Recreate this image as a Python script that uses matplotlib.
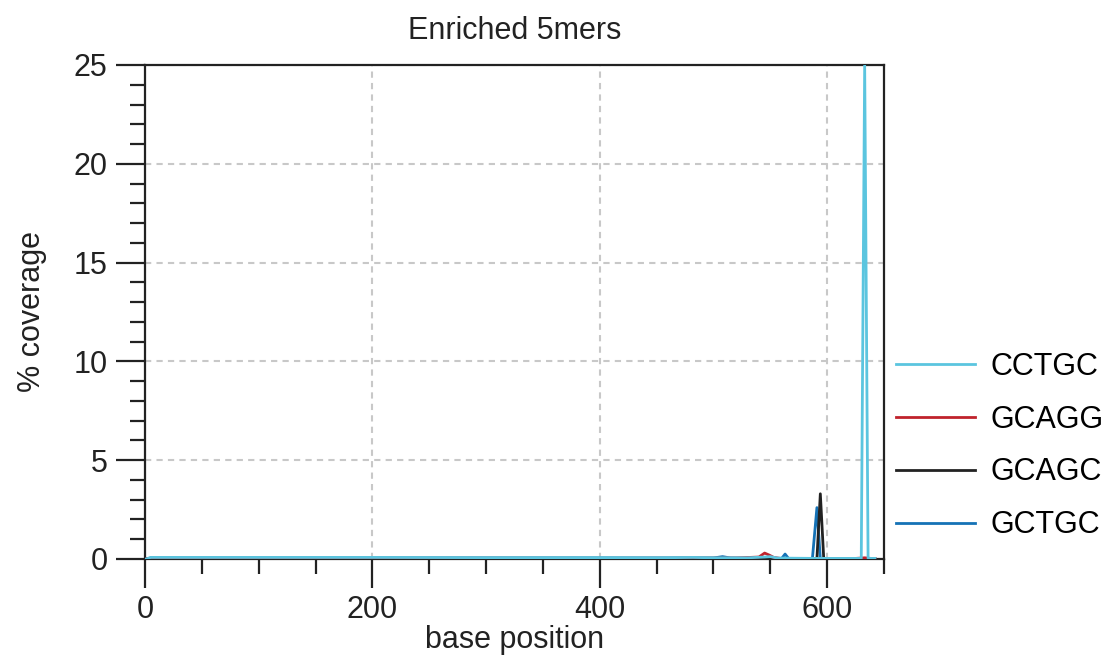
import matplotlib
matplotlib.use("Agg")
import matplotlib.pyplot as plt
from matplotlib.ticker import MultipleLocator

plt.rcParams['font.family'] = ['Liberation Sans', 'DejaVu Sans']

title = "Enriched 5mers"
xlabel = "base position"
ylabel = "% coverage"
labels = ["CCTGC", "GCAGG", "GCAGC", "GCTGC"]
colors = ["#5bc5df", "#c0222c", "#222222", "#1572b6"]

cctgc_x = [1, 5, 100, 200, 300, 400, 450, 482, 500, 530, 545, 550, 556, 570, 590, 600, 620, 630, 633, 636, 642]
cctgc_y = [0.0, 0.08, 0.08, 0.08, 0.07, 0.07, 0.06, 0.08, 0.06, 0.06, 0.10, 0.12, 0.05, 0.04, 0.03, 0.03, 0.03, 0.03, 25.0, 0.03, 0.03]

gcagg_x = [1, 5, 100, 200, 300, 400, 460, 480, 500, 520, 540, 545, 549, 553, 560, 580, 600, 620, 633, 642]
gcagg_y = [0.0, 0.04, 0.04, 0.04, 0.04, 0.03, 0.03, 0.05, 0.04, 0.05, 0.10, 0.30, 0.20, 0.08, 0.02, 0.01, 0.01, 0.01, 0.06, 0.01]

gcagc_x = [1, 5, 100, 200, 300, 400, 500, 560, 588, 591, 594, 597, 620, 642]
gcagc_y = [0.0, 0.04, 0.04, 0.04, 0.04, 0.04, 0.04, 0.02, 0.01, 0.01, 3.3, 0.01, 0.01, 0.01]

gctgc_x = [1, 5, 100, 200, 300, 400, 500, 508, 515, 540, 560, 563, 566, 580, 587, 591, 594, 620, 642]
gctgc_y = [0.0, 0.05, 0.05, 0.05, 0.05, 0.05, 0.05, 0.12, 0.05, 0.04, 0.03, 0.25, 0.03, 0.02, 0.01, 2.6, 0.01, 0.01, 0.01]

series_x = [cctgc_x, gcagg_x, gcagc_x, gctgc_x]
series_y = [cctgc_y, gcagg_y, gcagc_y, gctgc_y]

FS = 22
fig = plt.figure(figsize=(11.1, 6.6), dpi=100)
ax = fig.add_axes([145/1110, 1-559/660, (884-145)/1110, (559-65)/660])

handles = {}
draw_order = [3, 2, 1, 0]
for i in draw_order:
    ln, = ax.plot(series_x[i], series_y[i], color=colors[i], lw=2.0, label=labels[i], zorder=3 + (3 - i))
    handles[i] = ln

ax.set_xlim(0, 650)
ax.set_ylim(0, 25)
ax.xaxis.set_major_locator(MultipleLocator(200))
ax.xaxis.set_minor_locator(MultipleLocator(50))
ax.yaxis.set_major_locator(MultipleLocator(5))
ax.yaxis.set_minor_locator(MultipleLocator(1))

ax.grid(True, which='major', color='#c8c8c8', linestyle=(0, (3, 2.5)), lw=1.5, zorder=1)
for s in ax.spines.values():
    s.set_linewidth(1.6)
    s.set_color('#222222')

ax.tick_params(axis='both', which='both', direction='out', color='#222222', width=1.6,
               top=False, right=False, labelsize=FS)
ax.tick_params(axis='both', which='major', length=21)
ax.tick_params(axis='both', which='minor', length=11)
ax.tick_params(axis='y', which='major', pad=6)
ax.tick_params(axis='x', which='major', pad=5)
for lab in ax.get_xticklabels() + ax.get_yticklabels():
    lab.set_color('#222222')

ax.set_title(title, fontsize=FS, color='#222222', pad=19)
ax.set_xlabel(xlabel, fontsize=FS, color='#222222', labelpad=0)
ax.set_ylabel(ylabel, fontsize=FS, color='#222222', labelpad=19)

fig.legend([handles[i] for i in range(4)], labels, loc='center left',
           bbox_to_anchor=(896/1110, 1-446/660), frameon=False, fontsize=FS,
           handlelength=2.6, handletextpad=0.5, labelspacing=0.75, borderaxespad=0,
           borderpad=0)

fig.savefig("out.png", dpi=100)
